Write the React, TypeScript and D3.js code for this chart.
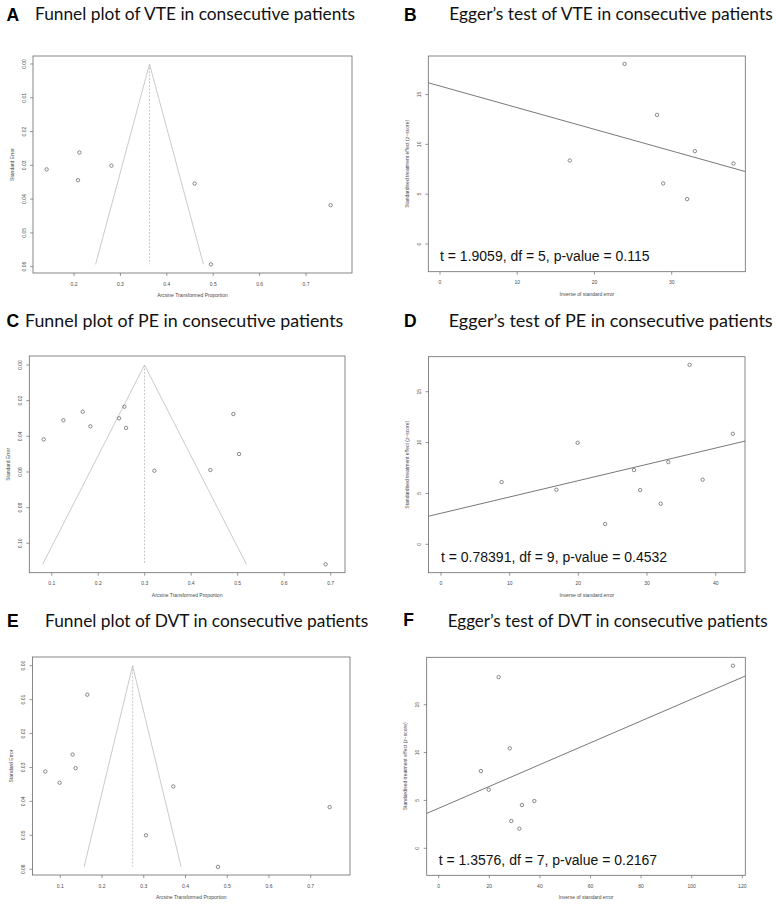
import React from 'react';
import * as d3 from 'd3';

// ---------- DATA ----------
// A: Funnel plot of VTE
const vteEffect = [0.141, 0.2115, 0.2086, 0.2806, 0.46, 0.495, 0.753];
const vteSE = [0.0312, 0.0262, 0.0344, 0.0301, 0.0354, 0.0593, 0.0418];
const vtePooled = 0.3627;
// B: Egger's test of VTE
const vtePrecision = [16.8, 23.9, 28.1, 28.9, 33.0, 32.0, 38.0];
const vteZ = [8.38, 18.07, 12.96, 6.08, 9.32, 4.51, 8.08];
const vteStat = 't = 1.9059, df = 5, p-value = 0.115';

// C: Funnel plot of PE
const peEffect = [0.0828, 0.1251, 0.1667, 0.1832, 0.2448, 0.2563, 0.2599, 0.3208, 0.4412, 0.4907, 0.5029, 0.6892];
const peSE = [0.0417, 0.031, 0.0262, 0.0344, 0.0299, 0.0234, 0.0353, 0.0593, 0.0589, 0.0275, 0.0499, 0.1118];
const pePooled = 0.2996;
// D: Egger's test of PE
const pePrecision = [8.83, 16.8, 19.9, 23.9, 28.1, 29.0, 32.0, 33.1, 36.2, 38.1, 42.5];
const peZ = [6.12, 5.36, 9.98, 1.99, 7.3, 5.33, 3.99, 8.08, 17.64, 6.35, 10.86];
const peStat = 't = 0.78391, df = 9, p-value = 0.4532';

// E: Funnel plot of DVT
const dvtEffect = [0.1647, 0.1296, 0.1367, 0.0641, 0.0984, 0.3708, 0.3053, 0.4778, 0.7454];
const dvtSE = [0.00855, 0.0262, 0.0302, 0.0312, 0.0345, 0.0356, 0.05, 0.0593, 0.0417];
const dvtPooled = 0.2733;
// F: Egger's test of DVT
const dvtPrecision = [16.7, 19.8, 23.7, 28.1, 28.7, 31.9, 32.9, 37.8, 116.3];
const dvtZ = [8.07, 6.12, 17.88, 10.44, 2.85, 2.05, 4.52, 4.94, 19.07];
const dvtStat = 't = 1.3576, df = 7, p-value = 0.2167';

// Tick values
const ticksA_x = [0.2, 0.3, 0.4, 0.5, 0.6, 0.7];
const ticksA_y = [0, 0.01, 0.02, 0.03, 0.04, 0.05, 0.06];
const ticksC_x = [0.1, 0.2, 0.3, 0.4, 0.5, 0.6, 0.7];
const ticksC_y = [0, 0.02, 0.04, 0.06, 0.08, 0.1];
const ticksE_x = [0.1, 0.2, 0.3, 0.4, 0.5, 0.6, 0.7];
const ticksE_y = [0, 0.01, 0.02, 0.03, 0.04, 0.05, 0.06];
const ticksB_x = [0, 10, 20, 30];
const ticksD_x = [0, 10, 20, 30, 40];
const ticksF_x = [0, 20, 40, 60, 80, 100, 120];
const ticksEgger_y = [0, 5, 10, 15];

// Axis domains (plot-region extents)
const domA_x = [0.1116, 0.7991];
const domA_y = [-0.00237, 0.06187];
const domB_x = [-1.515, 39.53];
const domB_y = [-2.78, 18.87];
const domC_x = [0.0518, 0.7308];
const domC_y = [-0.00505, 0.1165];
const domD_x = [-1.82, 44.27];
const domD_y = [-2.79, 18.44];
const domE_x = [0.0334, 0.7942];
const domE_y = [-0.00256, 0.0617];
const domF_x = [-4.74, 121.19];
const domF_y = [-2.82, 19.95];

// ---------- LAYOUT ----------
type Box = { l: number; r: number; t: number; b: number };
const boxA: Box = { l: 33, r: 352, t: 56, b: 273 };
const boxB: Box = { l: 428.3, r: 745.3, t: 56, b: 271.7 };
const boxC: Box = { l: 29.3, r: 345, t: 356, b: 572.7 };
const boxD: Box = { l: 428.5, r: 745, t: 356.7, b: 572.7 };
const boxE: Box = { l: 32.5, r: 350, t: 657, b: 875 };
const boxF: Box = { l: 426.7, r: 745.3, t: 657.3, b: 875.3 };

const AX_FONT = '"Liberation Sans", Arial, sans-serif';
const TITLE_FONT = 'Lato, "Open Sans", sans-serif';
const BOX_COLOR = '#6a6a6a';
const TEXT_COLOR = '#4a4a4a';
const PT_COLOR = '#5a5a5a';

function Axes({ box, x, y, xTicks, yTicks, xFmt, yFmt, xLabel, yLabel }: any) {
  return (
    <g fontFamily={AX_FONT} fill={TEXT_COLOR}>
      <rect x={box.l} y={box.t} width={box.r - box.l} height={box.b - box.t} fill="none" stroke={BOX_COLOR} strokeWidth={0.8} />
      {xTicks.map((t: number) => (
        <g key={'x' + t}>
          <line x1={x(t)} x2={x(t)} y1={box.b} y2={box.b + 3} stroke={BOX_COLOR} strokeWidth={0.7} />
          <text x={x(t)} y={box.b + 10.5} fontSize={5} textAnchor="middle" dominantBaseline="central">{xFmt(t)}</text>
        </g>
      ))}
      {yTicks.map((t: number) => (
        <g key={'y' + t}>
          <line x1={box.l - 3} x2={box.l} y1={y(t)} y2={y(t)} stroke={BOX_COLOR} strokeWidth={0.7} />
          <text transform={`translate(${box.l - 9.5},${y(t)}) rotate(-90)`} fontSize={5} textAnchor="middle" dominantBaseline="central">{yFmt(t)}</text>
        </g>
      ))}
      <text x={(box.l + box.r) / 2} y={box.b + 22} fontSize={5} textAnchor="middle" dominantBaseline="central">{xLabel}</text>
      <text transform={`translate(${box.l - 21.5},${(box.t + box.b) / 2}) rotate(-90)`} fontSize={5} textAnchor="middle" dominantBaseline="central">{yLabel}</text>
    </g>
  );
}

function Funnel({ box, xDom, yDom, effect, se, pooled, xTicks, yTicks, yFmt }: any) {
  const x = d3.scaleLinear().domain(xDom).range([box.l, box.r]);
  const y = d3.scaleLinear().domain(yDom).range([box.t, box.b]);
  const seMax = d3.max(se as number[]) as number;
  const line = d3.line();
  const funnelPath = line([
    [x(pooled - 1.96 * seMax), y(seMax)],
    [x(pooled), y(0)],
    [x(pooled + 1.96 * seMax), y(seMax)],
  ]) as string;
  return (
    <g>
      <Axes box={box} x={x} y={y} xTicks={xTicks} yTicks={yTicks} xFmt={d3.format('.1f')} yFmt={yFmt}
        xLabel="Arcsine Transformed Proportion" yLabel="Standard Error" />
      <path d={funnelPath} fill="none" stroke="#bdbdbd" strokeWidth={0.8} />
      <line x1={x(pooled)} x2={x(pooled)} y1={y(0)} y2={y(seMax)} stroke="#bdbdbd" strokeWidth={0.8} strokeDasharray="2,1.5" />
      {effect.map((v: number, i: number) => (
        <circle key={i} cx={x(v)} cy={y(se[i])} r={1.7} fill="none" stroke={PT_COLOR} strokeWidth={0.7} />
      ))}
    </g>
  );
}

function Egger({ box, xDom, yDom, prec, z, xTicks, stat, id }: any) {
  const x = d3.scaleLinear().domain(xDom).range([box.l, box.r]);
  const y = d3.scaleLinear().domain(yDom).range([box.b, box.t]);
  const mx = d3.mean(prec as number[]) as number;
  const my = d3.mean(z as number[]) as number;
  let sxy = 0, sxx = 0;
  prec.forEach((p: number, i: number) => { sxy += (p - mx) * (z[i] - my); sxx += (p - mx) * (p - mx); });
  const slope = sxy / sxx;
  const intercept = my - slope * mx;
  const x0 = xDom[0], x1 = xDom[1];
  return (
    <g>
      <defs>
        <clipPath id={id}><rect x={box.l} y={box.t} width={box.r - box.l} height={box.b - box.t} /></clipPath>
      </defs>
      <Axes box={box} x={x} y={y} xTicks={xTicks} yTicks={ticksEgger_y} xFmt={d3.format('d')} yFmt={d3.format('d')}
        xLabel="Inverse of standard error" yLabel="Standardised treatment effect (z−score)" />
      <line clipPath={`url(#${id})`} x1={x(x0)} y1={y(intercept + slope * x0)} x2={x(x1)} y2={y(intercept + slope * x1)}
        stroke="#555" strokeWidth={0.8} />
      {prec.map((v: number, i: number) => (
        <circle key={i} cx={x(v)} cy={y(z[i])} r={1.7} fill="none" stroke={PT_COLOR} strokeWidth={0.7} />
      ))}
      <text x={x(0)} y={y(-1.2)} fontFamily={AX_FONT} fontSize={14} fill="#111" dominantBaseline="central">{stat}</text>
    </g>
  );
}

function Title({ lx, ly, letter, tx, ty, tw, text, clip }: any) {
  return (
    <g clipPath={clip}>
      <text x={lx} y={ly} fontFamily={AX_FONT} fontWeight="bold" fontSize={17.5} fill="#000">{letter}</text>
      <text x={tx} y={ty} fontFamily={TITLE_FONT} fontSize={17.5} fill="#111" textLength={tw} lengthAdjust="spacingAndGlyphs">{text}</text>
    </g>
  );
}

export default function App() {
  const f2 = d3.format('.2f');
  return (
    <svg width={776} height={906} style={{ position: 'absolute', left: 0, top: 0, display: 'block', background: '#fff' }}>
      <defs>
        <clipPath id="clipF"><rect x={380} y={600} width={396} height={30.5} /></clipPath>
      </defs>
      <rect x={0} y={0} width={776} height={906} fill="#fff" />
      <Title lx={6.5} ly={20.7} letter="A" tx={35} ty={20} tw={320} text="Funnel plot of VTE in consecutive patients" />
      <Title lx={404} ly={20.7} letter="B" tx={449.3} ty={20} tw={323.4} text="Egger’s test of VTE in consecutive patients" />
      <Title lx={6.5} ly={327.3} letter="C" tx={25} ty={326.7} tw={318.3} text="Funnel plot of PE in consecutive patients" />
      <Title lx={404} ly={327.3} letter="D" tx={448.7} ty={326.7} tw={324} text="Egger’s test of PE in consecutive patients" />
      <Title lx={7} ly={626.7} letter="E" tx={45} ty={627} tw={323.3} text="Funnel plot of DVT in consecutive patients" />
      <Title lx={403.3} ly={626} letter="F" tx={447.7} ty={626.7} tw={320} text="Egger’s test of DVT in consecutive patients" clip="url(#clipF)" />

      <Funnel box={boxA} xDom={domA_x} yDom={domA_y} effect={vteEffect} se={vteSE} pooled={vtePooled}
        xTicks={ticksA_x} yTicks={ticksA_y} yFmt={f2} />
      <Egger id="cB" box={boxB} xDom={domB_x} yDom={domB_y} prec={vtePrecision} z={vteZ} xTicks={ticksB_x} stat={vteStat} />

      <Funnel box={boxC} xDom={domC_x} yDom={domC_y} effect={peEffect} se={peSE} pooled={pePooled}
        xTicks={ticksC_x} yTicks={ticksC_y} yFmt={f2} />
      <Egger id="cD" box={boxD} xDom={domD_x} yDom={domD_y} prec={pePrecision} z={peZ} xTicks={ticksD_x} stat={peStat} />

      <Funnel box={boxE} xDom={domE_x} yDom={domE_y} effect={dvtEffect} se={dvtSE} pooled={dvtPooled}
        xTicks={ticksE_x} yTicks={ticksE_y} yFmt={f2} />
      <Egger id="cF" box={boxF} xDom={domF_x} yDom={domF_y} prec={dvtPrecision} z={dvtZ} xTicks={ticksF_x} stat={dvtStat} />
    </svg>
  );
}
